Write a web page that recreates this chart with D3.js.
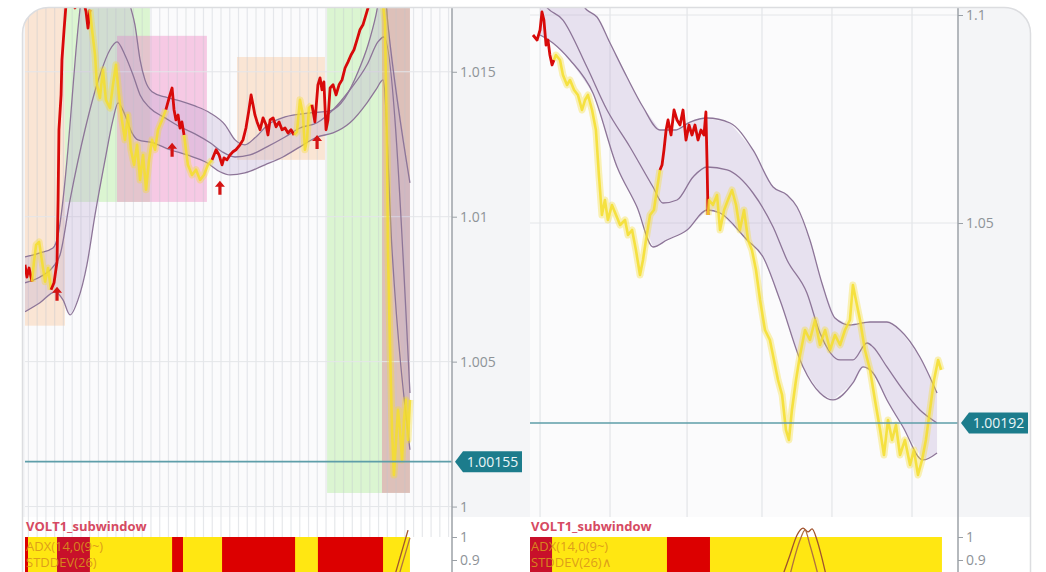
<!DOCTYPE html>
<html><head><meta charset="utf-8">
<script src="https://cdn.jsdelivr.net/npm/d3@7"></script>
<style>html,body{margin:0;padding:0;background:#fff;} svg{display:block;font-family:"Open Sans","Noto Sans",sans-serif;}</style>
</head><body><svg id="c" width="1046" height="572"></svg>
<script>
// ---------------- DATA ----------------
const leftTicks = [1, 1.005, 1.01, 1.015];
const rightTicks = [1.05, 1.1];
const subTicks = [0.9, 1];
const leftLast = 1.00155;
const rightLast = 1.00192;
const subTitle = "VOLT1_subwindow";
const leftLegend = ["ADX(14,0(9~)", "STDDEV(26)"];
const rightLegend = ["ADX(14,0(9~)", "STDDEV(26)\u2227"];

// zones: [t0, t1, vLow, vHigh, kind]
const leftZones = [
  [0, 18.7, 1.00624, 1.0190, "warm"],
  [18.7, 58.5, 1.01051, 1.0190, "bull"],
  [43.1, 85.2, 1.01051, 1.01624, "pink"],
  [99.3, 140.5, 1.01196, 1.01551, "warm"],
  [141.5, 167.2, 1.00047, 1.0190, "bull"],
  [167.2, 180.3, 1.00047, 1.0190, "bear"]
];

// Bollinger bands [t, value]
const leftUpper = [[0,1.00861],[7,1.00875],[13.1,1.00892],[15.5,1.00937],[17.8,1.01058],[20.1,1.01231],[22,1.01403],[23.9,1.01576],[25.8,1.0172],[28.6,1.01886],[35.1,1.02024],[42.2,1.01955],[46.8,1.01817],[49.2,1.01731],[51.5,1.01662],[53.9,1.01541],[56.2,1.01472],[59.5,1.01431],[65.6,1.01413],[72.6,1.014],[79.6,1.01382],[86.7,1.01358],[93.7,1.01317],[98.4,1.01265],[103,1.01248],[107.7,1.01272],[113.8,1.01317],[121.8,1.01344],[133.5,1.01358],[142.9,1.01365],[149.9,1.0141],[156,1.015],[160.7,1.01593],[164.4,1.01696],[166.7,1.01783],[168.1,1.018],[170,1.01662],[180.3,1.01117]];
const leftMid = [[0,1.00772],[7,1.00792],[13.1,1.00827],[16.4,1.00868],[21.1,1.01058],[28.1,1.013],[35.1,1.01489],[39.8,1.01576],[43.1,1.01603],[46.8,1.01558],[50.6,1.01489],[53.9,1.0142],[58.5,1.01375],[65.6,1.01341],[72.6,1.0131],[79.6,1.01286],[86.7,1.01255],[92.3,1.01224],[98.4,1.01206],[105.4,1.01213],[113.3,1.01241],[121.8,1.01275],[128.8,1.01306],[136.8,1.01324],[144.3,1.01369],[152.2,1.01438],[160.2,1.01524],[165.3,1.01603],[168.1,1.0162],[180.3,1.00392]];
const leftLower = [[0,1.00672],[7,1.00703],[14.1,1.00741],[17.8,1.00713],[21.1,1.00661],[24.8,1.00713],[29,1.00834],[32.8,1.01006],[37.5,1.01196],[41.2,1.01334],[43.6,1.01393],[46.8,1.01351],[50.1,1.01289],[52.9,1.01265],[60,1.01255],[67.9,1.01231],[75.9,1.01213],[85.2,1.01186],[91.3,1.01155],[96,1.01144],[103,1.01151],[112.4,1.01179],[120.8,1.01206],[128.8,1.01241],[136.8,1.01275],[144.3,1.01289],[152.2,1.01324],[160.2,1.01393],[164.4,1.01438],[167.7,1.01472],[171.9,1.00886],[180.3,1.00196]];

// price [t, value, state]  r = red, y = yellow
const leftPrice = [[0,1.00834,"r"],[0.9,1.00792,"r"],[1.9,1.00823,"r"],[3.3,1.00776,"r"],[4.2,1.00844,"y"],[5.2,1.00903,"y"],[6.6,1.00913,"y"],[8,1.00844,"y"],[9.4,1.00776,"y"],[10.8,1.00823,"y"],[12.2,1.00748,"y"],[13.6,1.00772,"r"],[15,1.00844,"r"],[15.5,1.01058,"r"],[15.9,1.013,"r"],[16.9,1.0142,"r"],[17.3,1.01541,"r"],[18.3,1.01645,"r"],[19.2,1.01731,"r"],[20.1,1.018,"r"],[22,1.01765,"r"],[23.4,1.0172,"r"],[24.8,1.01776,"r"],[26.7,1.01765,"r"],[28.6,1.01707,"r"],[29.5,1.01651,"r"],[30.4,1.01714,"r"],[31.4,1.01645,"y"],[32.8,1.01558,"y"],[33.7,1.01455,"y"],[35.1,1.0141,"y"],[36.5,1.01507,"y"],[37.9,1.01403,"y"],[39.8,1.01375,"y"],[41.2,1.01455,"y"],[42.6,1.01524,"y"],[44,1.0142,"y"],[45.4,1.01334,"y"],[46.8,1.01265,"y"],[48.2,1.01351,"y"],[49.6,1.01231,"y"],[51.1,1.01179,"y"],[52.5,1.01248,"y"],[53.9,1.01127,"y"],[55.3,1.01213,"y"],[56.7,1.01093,"y"],[58.1,1.01196,"y"],[59.5,1.01265,"y"],[60.9,1.01231,"y"],[62.3,1.013,"y"],[64.2,1.01334,"y"],[66,1.01369,"y"],[67.9,1.0142,"r"],[68.9,1.01444,"r"],[69.8,1.01369,"r"],[70.7,1.01334,"r"],[71.7,1.01351,"r"],[72.6,1.01306,"r"],[73.5,1.01327,"r"],[74.5,1.01282,"r"],[75.4,1.01231,"y"],[76.3,1.01179,"y"],[78.2,1.01144,"y"],[80.1,1.01162,"y"],[82,1.01127,"y"],[83.8,1.01144,"y"],[85.7,1.01179,"y"],[87.6,1.01196,"y"],[89.5,1.01231,"r"],[90.9,1.01213,"r"],[92.3,1.01179,"r"],[93.2,1.01203,"r"],[94.6,1.01196,"r"],[96,1.01213,"r"],[97.4,1.01224,"r"],[98.8,1.01231,"r"],[100.7,1.01248,"r"],[102.1,1.01265,"r"],[103.5,1.01306,"r"],[104.9,1.01369,"r"],[105.9,1.0142,"r"],[106.8,1.01386,"r"],[107.7,1.01351,"r"],[108.7,1.01327,"r"],[110.1,1.013,"r"],[111.5,1.01341,"r"],[112.9,1.01317,"r"],[113.8,1.01282,"r"],[114.8,1.01334,"r"],[116.2,1.01341,"r"],[117.6,1.0131,"r"],[119,1.01327,"r"],[120.4,1.013,"r"],[121.8,1.01306,"r"],[123.2,1.01289,"r"],[124.6,1.013,"r"],[126,1.01282,"r"],[127.4,1.01293,"y"],[128.8,1.01403,"y"],[130.2,1.01351,"y"],[131.1,1.01231,"y"],[132.1,1.01265,"y"],[133,1.01375,"y"],[134.4,1.01386,"y"],[135.8,1.01327,"r"],[137.2,1.01455,"r"],[138.2,1.01479,"r"],[139.1,1.01438,"r"],[140,1.01465,"r"],[141,1.013,"r"],[141.9,1.01334,"r"],[142.9,1.01444,"r"],[144.3,1.01455,"r"],[145.7,1.0142,"r"],[147.1,1.01455,"r"],[148.5,1.01472,"r"],[149.9,1.01513,"r"],[151.3,1.01534,"r"],[152.7,1.01558,"r"],[154.1,1.01576,"r"],[155.5,1.0161,"r"],[156.9,1.01645,"r"],[158.3,1.01662,"r"],[159.7,1.01696,"r"],[161.1,1.01731,"r"],[162.5,1.01776,"r"],[165.3,1.01783,"r"],[167.7,1.01731,"r"],[168.6,1.01672,"y"],[169.6,1.01231,"y"],[170,1.00886,"y"],[171,1.0054,"y"],[171.9,1.00265,"y"],[172.8,1.00109,"y"],[173.8,1.0023,"y"],[174.7,1.00334,"y"],[175.6,1.00265,"y"],[176.6,1.00161,"y"],[177.5,1.00299,"y"],[178.4,1.00368,"y"],[179.4,1.0023,"y"],[180.3,1.00368,"y"]];
const leftArrows = [[15,1.00734],[68.9,1.01231],[91.3,1.011],[136.8,1.01258]];

const rightTimeGrid = [4.7, 37.4, 73.4, 108.4, 141.1, 178.5];
const rightUpper = [[4.7,1.118],[14,1.10842],[21,1.10481],[26.6,1.1012],[31.3,1.09952],[37.4,1.09327],[45.3,1.0851],[52.8,1.07789],[60.7,1.07236],[67.8,1.07236],[74.8,1.07428],[82.7,1.07525],[93.5,1.07404],[104.2,1.06756],[113.6,1.05866],[120.1,1.05674],[124.8,1.05385],[130.8,1.04592],[136.4,1.03558],[142.5,1.02717],[149.5,1.02549],[158.9,1.02621],[166.8,1.02621],[172.9,1.02429],[182.2,1.0178],[190.2,1.00914]];
const rightMid = [[4.7,1.1045],[7,1.10241],[15.4,1.0988],[26.6,1.08751],[36,1.07717],[46.7,1.06828],[57.5,1.05866],[62.1,1.05481],[68.7,1.05554],[76.2,1.06107],[82.7,1.06347],[92.1,1.06275],[104.2,1.05722],[113.6,1.04904],[120.1,1.04112],[129.4,1.03318],[135.5,1.02357],[144.9,1.01708],[150.9,1.01708],[157.5,1.02116],[160.3,1.0202],[166.8,1.0154],[174.3,1.00987],[182.2,1.00506],[190.2,1.00194]];
const rightLower = [[4.7,1.0952],[10.7,1.09327],[18.7,1.08919],[29.4,1.08126],[40.7,1.06347],[50,1.05385],[57.5,1.04424],[64,1.04592],[73.4,1.04833],[82.7,1.05313],[88.8,1.05241],[101.4,1.04592],[108.9,1.04183],[116.8,1.0315],[127.6,1.0154],[135.5,1.00915],[141.6,1.00747],[150.9,1.01155],[155.6,1.0154],[160.3,1.01395],[166.8,1.00747],[174.3,1.00097],[183.6,0.99304],[190.2,0.99472]];
const rightPrice = [[1.4,1.0952,"r"],[3.3,1.09399,"r"],[4.7,1.0964,"r"],[5.6,1.10073,"r"],[6.5,1.0988,"r"],[7.5,1.09279,"r"],[8.4,1.09399,"r"],[9.3,1.09039,"r"],[10.3,1.08799,"r"],[11.2,1.08919,"r"],[12.1,1.09039,"y"],[14,1.08919,"y"],[15.4,1.08558,"y"],[17.3,1.08318,"y"],[18.7,1.08438,"y"],[20.6,1.08198,"y"],[22.4,1.08078,"y"],[24.3,1.07717,"y"],[25.7,1.07957,"y"],[27.1,1.08078,"y"],[29,1.07717,"y"],[30.8,1.07236,"y"],[32.2,1.06154,"y"],[33.6,1.05193,"y"],[35,1.05554,"y"],[36.4,1.05073,"y"],[38.3,1.05433,"y"],[40.2,1.05193,"y"],[42.1,1.04952,"y"],[44.4,1.05073,"y"],[45.8,1.04712,"y"],[47.7,1.04833,"y"],[49.5,1.04352,"y"],[51.4,1.03751,"y"],[52.8,1.04112,"y"],[54.2,1.04592,"y"],[56.1,1.05193,"y"],[57.9,1.05313,"y"],[59.3,1.05794,"y"],[60.7,1.06275,"y"],[61.7,1.06395,"r"],[62.6,1.06756,"r"],[63.6,1.07236,"r"],[64.5,1.07477,"r"],[65.9,1.07116,"r"],[67.3,1.07717,"r"],[68.7,1.07477,"r"],[70.1,1.07356,"r"],[71.5,1.07717,"r"],[72.9,1.06996,"r"],[74.3,1.07356,"r"],[75.7,1.07116,"r"],[77.1,1.07356,"r"],[78.5,1.06996,"r"],[79.9,1.07236,"r"],[81.3,1.07116,"r"],[82.2,1.07669,"r"],[82.7,1.06515,"r"],[83.2,1.05193,"r"],[83.6,1.05554,"y"],[85.5,1.05433,"y"],[87.4,1.05674,"y"],[88.8,1.04833,"y"],[90.7,1.05313,"y"],[92.5,1.05554,"y"],[94.4,1.05794,"y"],[96.3,1.05433,"y"],[98.1,1.04833,"y"],[100,1.05313,"y"],[101.9,1.04592,"y"],[103.7,1.04352,"y"],[105.6,1.03871,"y"],[107.5,1.0315,"y"],[109.8,1.02429,"y"],[112.1,1.02189,"y"],[114,1.01708,"y"],[115.9,1.01227,"y"],[117.8,1.00866,"y"],[119.6,1.00025,"y"],[121,0.99785,"y"],[122.4,1.00506,"y"],[124.3,1.01227,"y"],[126.2,1.01828,"y"],[128.5,1.02429,"y"],[130.8,1.02189,"y"],[133.2,1.02669,"y"],[135.5,1.02068,"y"],[137.9,1.02429,"y"],[140.2,1.01948,"y"],[142.5,1.02309,"y"],[144.9,1.02068,"y"],[147.2,1.02429,"y"],[149.5,1.02669,"y"],[150.9,1.0351,"y"],[152.3,1.0315,"y"],[154.2,1.02669,"y"],[156.5,1.01948,"y"],[158.9,1.01468,"y"],[161.2,1.00747,"y"],[163.6,1.00025,"y"],[165.4,0.99424,"y"],[167.3,1.00266,"y"],[169.2,0.99785,"y"],[171,1.00145,"y"],[172.9,0.99424,"y"],[175.2,0.99785,"y"],[177.6,0.99184,"y"],[179.4,0.99545,"y"],[181.3,0.98944,"y"],[183.2,0.99304,"y"],[185,0.99785,"y"],[186.9,1.00506,"y"],[188.8,1.01227,"y"],[190.7,1.01708,"y"],[192.1,1.01468,"y"]];

// subwindow state bars [t0, t1, state]
const leftSubBars = [[0,180.3,"y"],[0,1.4,"r"],[15,30.4,"c"],[68.9,74,"r"],[92.3,126.5,"r"],[137.2,167.7,"r"]];
const rightSubBars = [[0,192.5,"y"],[0,10.3,"c"],[64,84.1,"r"]];
const leftSubLines = [[[173.3,0.835],[179.4,1.03]],[[175.2,0.835],[180.3,0.996]]];
const rightSubLines = [[[118.2,0.835],[121.5,0.922],[124.8,1.009],[127.6,1.039],[129.9,1.022],[131.8,1.035],[134.1,0.987],[136.4,0.909],[138.3,0.835]],
                       [[121.5,0.835],[126.2,0.987],[128.5,1.03],[130.8,0.965],[134.6,0.835]]];

// ---------------- STYLE ----------------
const zoneColor = {warm:"rgba(250,190,140,0.36)", bull:"rgba(175,235,150,0.42)", pink:"rgba(240,140,200,0.45)", bear:"rgba(185,120,105,0.45)"};
const priceColor = {r:"#d80a0a", y:"#f5de2c"};
const barColor = {y:"#ffe712", r:"#dc0000", c:"#c8102a"};
const bandLine = "#8d7598";
const bandFill = "rgba(185,165,210,0.30)";

const svg = d3.select("#c");
const defs = svg.append("defs");
defs.append("clipPath").attr("id","card").append("rect").attr("x",22.5).attr("y",7.5).attr("width",1008).attr("height",640).attr("rx",26);
defs.append("clipPath").attr("id","clipL").append("rect").attr("x",25).attr("y",8).attr("width",427).attr("height",509);
defs.append("clipPath").attr("id","clipR").append("rect").attr("x",530).attr("y",8).attr("width",428).attr("height",509);
defs.append("clipPath").attr("id","subL").append("rect").attr("x",25).attr("y",520).attr("width",427).attr("height",60);
defs.append("clipPath").attr("id","subR").append("rect").attr("x",530).attr("y",520).attr("width",428).attr("height",60);

const root = svg.append("g").attr("clip-path","url(#card)");
root.append("rect").attr("x",0).attr("y",0).attr("width",1046).attr("height",572).attr("fill","#ffffff");
root.append("rect").attr("x",22).attr("y",8).attr("width",1010).attr("height",509).attr("fill","#f4f5f7");

const xL = d3.scaleLinear().domain([0,200]).range([25,452]);
const yL = d3.scaleLinear().domain([0.99964,1.0172]).range([517,8]);
const xR = d3.scaleLinear().domain([0,200]).range([530,958]);
const yR = d3.scaleLinear().domain([0.97933,1.10169]).range([517,8]);
const ySub = d3.scaleLinear().domain([0.9,1]).range([560,537]);

// left vertical grid (dense session separators)
const leftGridT = d3.range(1.6, 200, 4.1);

function drawPanel(o){
  const g = root.append("g").attr("clip-path",`url(#${o.clip})`);
  g.append("rect").attr("x",o.x.range()[0]).attr("y",8).attr("width",o.x.range()[1]-o.x.range()[0]).attr("height",509).attr("fill","#fbfbfc");
  g.selectAll("rect.zone").data(o.zones).join("rect").attr("class","zone")
    .attr("x",d=>o.x(d[0])).attr("width",d=>o.x(d[1])-o.x(d[0]))
    .attr("y",d=>o.y(d[3])).attr("height",d=>o.y(d[2])-o.y(d[3]))
    .attr("fill",d=>zoneColor[d[4]]);
  g.selectAll("line.vg").data(o.vgrid).join("line").attr("class","vg")
    .attr("x1",d=>o.x(d)).attr("x2",d=>o.x(d)).attr("y1",8).attr("y2",517)
    .attr("stroke",o.vgColor).attr("stroke-width",o.vgWidth);
  g.selectAll("line.hg").data(o.ticks).join("line").attr("class","hg")
    .attr("x1",o.x.range()[0]).attr("x2",o.x.range()[1]).attr("y1",d=>o.y(d)).attr("y2",d=>o.y(d))
    .attr("stroke","#e4e6e9").attr("stroke-width",1);
  const line = d3.line().x(d=>o.x(d[0])).y(d=>o.y(d[1])).curve(d3.curveMonotoneX);
  const lineLin = d3.line().x(d=>o.x(d[0])).y(d=>o.y(d[1]));
  const poly = o.upper.concat(o.lower.slice().reverse());
  g.append("path").attr("d",lineLin(poly)+"Z").attr("fill",bandFill);
  [o.upper,o.mid,o.lower].forEach(b=>{
    g.append("path").attr("d",line(b)).attr("fill","none").attr("stroke",bandLine).attr("stroke-width",1.3);
  });
  const runs=[]; let cur=null;
  o.price.forEach((p)=>{
    if(!cur || cur.c!==p[2]){ const prev = cur ? cur.pts[cur.pts.length-1] : null; cur={c:p[2],pts:prev?[prev]:[]}; runs.push(cur);}
    cur.pts.push(p);
  });
  runs.filter(r=>r.c==="y").forEach(r=>{
    g.append("path").attr("d",lineLin(r.pts)).attr("fill","none").attr("stroke",priceColor.y).attr("stroke-opacity",0.35).attr("stroke-width",7).attr("stroke-linejoin","round");
  });
  runs.forEach(r=>{
    g.append("path").attr("d",lineLin(r.pts)).attr("fill","none").attr("stroke",priceColor[r.c])
      .attr("stroke-width",r.c==="r"?2.8:2.6).attr("stroke-linejoin","round").attr("stroke-opacity",r.c==="y"?0.85:1);
  });
  g.selectAll("path.arrow").data(o.arrows).join("path").attr("class","arrow")
    .attr("transform",d=>`translate(${o.x(d[0])},${o.y(d[1])})`)
    .attr("d","M0,-7 L5,-1 L1.6,-1 L1.6,7 L-1.6,7 L-1.6,-1 L-5,-1 Z").attr("fill","#d41414");
  g.append("line").attr("x1",o.x.range()[0]).attr("x2",o.x.range()[1]).attr("y1",o.y(o.last)).attr("y2",o.y(o.last))
    .attr("stroke","#5e9ea9").attr("stroke-width",1.6);
}

root.selectAll("line.vgx").data(leftGridT).join("line").attr("class","vgx")
  .attr("x1",d=>xL(d)).attr("x2",d=>xL(d)).attr("y1",517).attr("y2",537).attr("stroke","#e6e8eb").attr("stroke-width",1.2);

drawPanel({clip:"clipL",x:xL,y:yL,zones:leftZones,vgrid:leftGridT,vgColor:"rgba(190,196,204,0.36)",vgWidth:1.2,ticks:leftTicks,
  upper:leftUpper,mid:leftMid,lower:leftLower,price:leftPrice,arrows:leftArrows,last:leftLast});
drawPanel({clip:"clipR",x:xR,y:yR,zones:[],vgrid:rightTimeGrid,vgColor:"#e3e5e8",vgWidth:1.2,ticks:rightTicks,
  upper:rightUpper,mid:rightMid,lower:rightLower,price:rightPrice,arrows:[],last:rightLast});

function drawSub(o){
  const g = root.append("g").attr("clip-path",`url(#${o.clip})`);
  g.selectAll("rect").data(o.bars).join("rect")
    .attr("x",d=>o.x(d[0])).attr("width",d=>o.x(d[1])-o.x(d[0]))
    .attr("y",ySub(1)).attr("height",60).attr("fill",d=>barColor[d[2]]);
  const line = d3.line().x(d=>o.x(d[0])).y(d=>ySub(d[1])).curve(d3.curveMonotoneX);
  o.lines.forEach((l,i)=>{
    g.append("path").attr("d",line(l)).attr("fill","none").attr("stroke",i===0?"#a0522d":"#b07040").attr("stroke-width",1.3);
  });
  const x0 = o.x.range()[0];
  root.append("text").attr("x",x0+1).attr("y",531).text(subTitle)
    .attr("fill","#d64a62").attr("font-size",13).attr("font-weight",700);
  o.legend.forEach((t,i)=>{
    root.append("text").attr("x",x0+1).attr("y",551+i*16).text(t)
      .attr("fill","#d9951c").attr("fill-opacity",0.9).attr("font-size",13);
  });
}
drawSub({clip:"subL",x:xL,bars:leftSubBars,lines:leftSubLines,legend:leftLegend});
drawSub({clip:"subR",x:xR,bars:rightSubBars,lines:rightSubLines,legend:rightLegend});

function drawAxis(xpos, scale, ticks, fmt){
  const ax = d3.axisRight(scale).tickValues(ticks).tickFormat(fmt).tickSize(5).tickPadding(3);
  const g = root.append("g").attr("transform",`translate(${xpos},0)`).call(ax);
  g.select(".domain").remove();
  g.selectAll(".tick line").attr("stroke","#9aa0a6");
  g.selectAll(".tick text").attr("fill","#8e9398").attr("font-size",14).attr("font-family","'Open Sans',sans-serif");
}
const fmt = d => String(+d.toFixed(5));
[452,958].forEach(xp=>{
  root.append("line").attr("x1",xp).attr("x2",xp).attr("y1",8).attr("y2",572).attr("stroke","#a3a8ad").attr("stroke-width",1.6);
});
drawAxis(452, yL, leftTicks, fmt);
drawAxis(958, yR, rightTicks, fmt);
drawAxis(452, ySub, subTicks, fmt);
drawAxis(958, ySub, subTicks, fmt);

function tag(xp, yp, val){
  const w = 67, h = 21;
  root.append("path").attr("d",`M${xp+3},${yp} L${xp+11},${yp-h/2} L${xp+3+w},${yp-h/2} L${xp+3+w},${yp+h/2} L${xp+11},${yp+h/2} Z`)
    .attr("fill","#1c7c8c");
  root.append("text").attr("x",xp+11+(w-8)/2).attr("y",yp+5).attr("text-anchor","middle")
    .attr("fill","#eaf6f8").attr("font-size",14).text(String(val));
}
tag(452, yL(leftLast), leftLast);
tag(958, yR(rightLast), rightLast);

svg.append("rect").attr("x",22.5).attr("y",7.5).attr("width",1008).attr("height",640).attr("rx",26)
  .attr("fill","none").attr("stroke","#dcdde0").attr("stroke-width",1.5);
</script></body></html>
